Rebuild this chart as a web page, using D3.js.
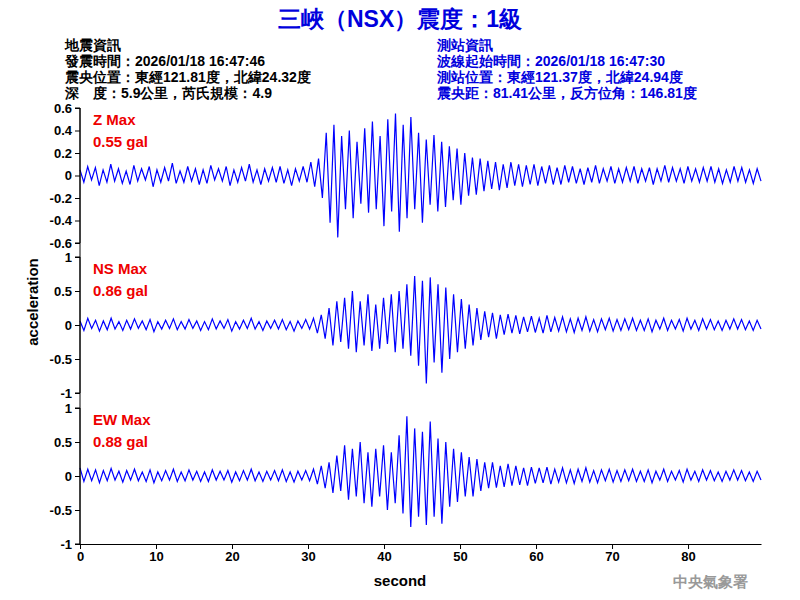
<!DOCTYPE html>
<html><head><meta charset="utf-8">
<script src="https://cdn.jsdelivr.net/npm/d3@7"></script>
<style>body{margin:0;background:#fff}text{font-family:Arial,"Liberation Sans",sans-serif}</style>
</head><body><svg id="c" width="800" height="600"></svg>
<script>
const title = "三峽（NSX）震度：1級";
const leftInfo = ["地震資訊","發震時間：2026/01/18 16:47:46","震央位置：東經121.81度，北緯24.32度","深　度：5.9公里，芮氏規模：4.9"];
const rightInfo = ["測站資訊","波線起始時間：2026/01/18 16:47:30","測站位置：東經121.37度，北緯24.94度","震央距：81.41公里，反方位角：146.81度"];
const channels = ["Z Max","NS Max","EW Max"];
const maxLabels = ["0.55 gal","0.86 gal","0.88 gal"];
const zTicks = [0.6,0.4,0.2,0,-0.2,-0.4,-0.6];
const hTicks = [1,0.5,0,-0.5,-1];
const xTicks = [0,10,20,30,40,50,60,70,80];
const duration = 89.6;
const zVals = [0.05,-0.06,0.08,-0.04,0.07,-0.09,0.05,-0.06,0.1,-0.05,0.06,-0.07,0.04,-0.08,0.09,-0.05,0.06,-0.04,0.08,-0.1,0.05,-0.06,0.07,-0.05,0.11,-0.07,0.04,-0.06,0.08,-0.05,0.06,-0.08,0.05,-0.07,0.09,-0.04,0.06,-0.05,0.08,-0.09,0.05,-0.06,0.07,-0.05,0.1,-0.06,0.05,-0.08,0.06,-0.05,0.07,-0.06,0.08,-0.07,0.05,-0.09,0.06,-0.05,0.08,-0.06,0.12,-0.1,0.15,-0.2,0.38,-0.42,0.45,-0.55,0.35,-0.3,0.4,-0.38,0.3,-0.25,0.42,-0.33,0.48,-0.3,0.35,-0.45,0.5,-0.32,0.55,-0.5,0.45,-0.38,0.52,-0.3,0.38,-0.42,0.32,-0.26,0.36,-0.32,0.3,-0.28,0.26,-0.22,0.24,-0.26,0.2,-0.18,0.16,-0.17,0.15,-0.14,0.13,-0.12,0.12,-0.13,0.1,-0.11,0.12,-0.09,0.1,-0.1,0.09,-0.08,0.1,-0.09,0.08,-0.07,0.09,-0.08,0.07,-0.08,0.09,-0.06,0.08,-0.07,0.06,-0.08,0.07,-0.06,0.09,-0.07,0.06,-0.05,0.08,-0.07,0.06,-0.06,0.07,-0.05,0.08,-0.07,0.06,-0.05,0.07,-0.08,0.06,-0.05,0.09,-0.06,0.07,-0.05,0.06,-0.07,0.08,-0.05,0.06,-0.06,0.07,-0.05,0.08,-0.06,0.06,-0.07,0.05,-0.06,0.08,-0.05,0.07,-0.06,0.05,-0.07,0.06,-0.05];
const nsVals = [0.06,-0.08,0.1,-0.05,0.07,-0.09,0.06,-0.07,0.1,-0.06,0.05,-0.08,0.07,-0.06,0.09,-0.05,0.06,-0.07,0.08,-0.1,0.05,-0.06,0.07,-0.05,0.09,-0.07,0.05,-0.06,0.08,-0.05,0.06,-0.08,0.05,-0.07,0.09,-0.06,0.06,-0.05,0.08,-0.09,0.05,-0.06,0.07,-0.05,0.1,-0.06,0.05,-0.08,0.06,-0.05,0.07,-0.06,0.08,-0.07,0.05,-0.09,0.06,-0.05,0.08,-0.06,0.1,-0.12,0.15,-0.2,0.25,-0.3,0.35,-0.25,0.4,-0.35,0.5,-0.4,0.35,-0.3,0.45,-0.38,0.3,-0.35,0.4,-0.28,0.45,-0.4,0.5,-0.35,0.6,-0.45,0.72,-0.6,0.65,-0.86,0.7,-0.55,0.6,-0.7,0.55,-0.5,0.45,-0.4,0.38,-0.35,0.3,-0.3,0.25,-0.22,0.2,-0.18,0.18,-0.2,0.15,-0.14,0.16,-0.12,0.14,-0.13,0.12,-0.1,0.13,-0.11,0.1,-0.12,0.14,-0.1,0.11,-0.09,0.12,-0.1,0.09,-0.11,0.1,-0.08,0.12,-0.09,0.08,-0.1,0.09,-0.07,0.1,-0.09,0.08,-0.08,0.09,-0.07,0.1,-0.08,0.07,-0.08,0.09,-0.1,0.07,-0.06,0.1,-0.08,0.07,-0.06,0.08,-0.09,0.1,-0.06,0.07,-0.08,0.09,-0.06,0.08,-0.07,0.06,-0.08,0.07,-0.06,0.09,-0.06,0.08,-0.07,0.06,-0.08,0.07,-0.06];
const ewVals = [0.12,-0.08,0.1,-0.07,0.09,-0.1,0.08,-0.07,0.11,-0.06,0.07,-0.09,0.08,-0.06,0.1,-0.07,0.06,-0.08,0.09,-0.1,0.06,-0.07,0.08,-0.06,0.1,-0.08,0.06,-0.07,0.09,-0.06,0.07,-0.08,0.06,-0.08,0.09,-0.06,0.07,-0.06,0.08,-0.09,0.06,-0.07,0.08,-0.06,0.1,-0.07,0.06,-0.08,0.07,-0.06,0.08,-0.07,0.09,-0.08,0.06,-0.09,0.07,-0.06,0.08,-0.07,0.1,-0.12,0.15,-0.18,0.2,-0.25,0.3,-0.22,0.45,-0.35,0.4,-0.3,0.5,-0.4,0.35,-0.45,0.4,-0.3,0.45,-0.5,0.35,-0.4,0.6,-0.55,0.88,-0.75,0.7,-0.6,0.65,-0.72,0.8,-0.6,0.55,-0.7,0.5,-0.45,0.4,-0.38,0.35,-0.3,0.28,-0.3,0.25,-0.22,0.2,-0.18,0.2,-0.17,0.15,-0.16,0.18,-0.14,0.15,-0.13,0.12,-0.14,0.13,-0.11,0.12,-0.1,0.13,-0.12,0.1,-0.09,0.12,-0.1,0.09,-0.11,0.1,-0.08,0.12,-0.09,0.08,-0.1,0.09,-0.07,0.1,-0.09,0.08,-0.08,0.09,-0.07,0.1,-0.08,0.07,-0.08,0.09,-0.1,0.07,-0.06,0.1,-0.08,0.07,-0.06,0.08,-0.09,0.1,-0.06,0.07,-0.08,0.09,-0.06,0.08,-0.07,0.06,-0.08,0.07,-0.06,0.09,-0.06,0.08,-0.07,0.06,-0.08,0.07,-0.06];
const series = [zVals,nsVals,ewVals];

const svg = d3.select("#c");
svg.append("text").attr("x",400).attr("y",27).attr("text-anchor","middle").attr("fill","#0000dd")
  .attr("font-size",23).attr("font-weight","bold").attr("font-family","'Noto Sans CJK TC',sans-serif").text(title);
leftInfo.forEach((t,i)=>svg.append("text").attr("x",65).attr("y",50+i*16).attr("font-size",14).attr("font-weight","bold")
  .attr("font-family","'Noto Sans CJK TC',sans-serif").attr("fill","#000").text(t));
rightInfo.forEach((t,i)=>svg.append("text").attr("x",437).attr("y",50+i*16).attr("font-size",14).attr("font-weight","bold")
  .attr("font-family","'Noto Sans CJK TC',sans-serif").attr("fill","#0000dd").text(t));

const x = d3.scaleLinear().domain([0,duration]).range([80,761]);
const panels = [{top:108,bot:243,dom:[-0.6,0.6],ticks:zTicks},{top:257,bot:393,dom:[-1,1],ticks:hTicks},{top:408,bot:544,dom:[-1,1],ticks:hTicks}];
panels.forEach((p,k)=>{
  const y = d3.scaleLinear().domain(p.dom).range([p.bot,p.top]);
  const vals = series[k]; const dt = duration/(vals.length-1);
  svg.append("path").datum(vals).attr("fill","none").attr("stroke","#0000ff").attr("stroke-width",1.2)
    .attr("d",d3.line().x((d,i)=>x(i*dt)).y(d=>y(d)));
  const ax = svg.append("g").attr("transform","translate(80,0)")
    .call(d3.axisLeft(y).tickValues(p.ticks).tickSize(5).tickFormat(d=>d===0?"0":String(d)));
  ax.selectAll("text").attr("font-size",13).attr("font-weight","bold").attr("fill","#000");
  ax.select(".domain").attr("d",`M-5,${y(p.dom[1])}H0V${y(p.dom[0])}H-5`);
  svg.append("text").attr("x",93).attr("y",p.top+17).attr("fill","#ee0000").attr("font-size",15).attr("font-weight","bold").text(channels[k]);
  svg.append("text").attr("x",93).attr("y",p.top+39).attr("fill","#ee0000").attr("font-size",15).attr("font-weight","bold").text(maxLabels[k]);
});
svg.append("line").attr("x1",80).attr("x2",80).attr("y1",108).attr("y2",544).attr("stroke","#000");
const xa = svg.append("g").attr("transform","translate(0,544)").call(d3.axisBottom(x).tickValues(xTicks).tickSize(5).tickSizeOuter(0));
xa.selectAll("text").attr("font-size",13).attr("font-weight","bold").attr("fill","#000");
svg.append("text").attr("x",400).attr("y",586).attr("text-anchor","middle").attr("font-size",15).attr("font-weight","bold").text("second");
svg.append("text").attr("transform","translate(38,302) rotate(-90)").attr("text-anchor","middle").attr("font-size",15).attr("font-weight","bold").text("acceleration");
svg.append("text").attr("x",748).attr("y",587).attr("text-anchor","end").attr("font-size",15).attr("font-weight","bold")
  .attr("fill","#999").attr("font-family","'Noto Sans CJK TC',serif").text("中央氣象署");
</script></body></html>
